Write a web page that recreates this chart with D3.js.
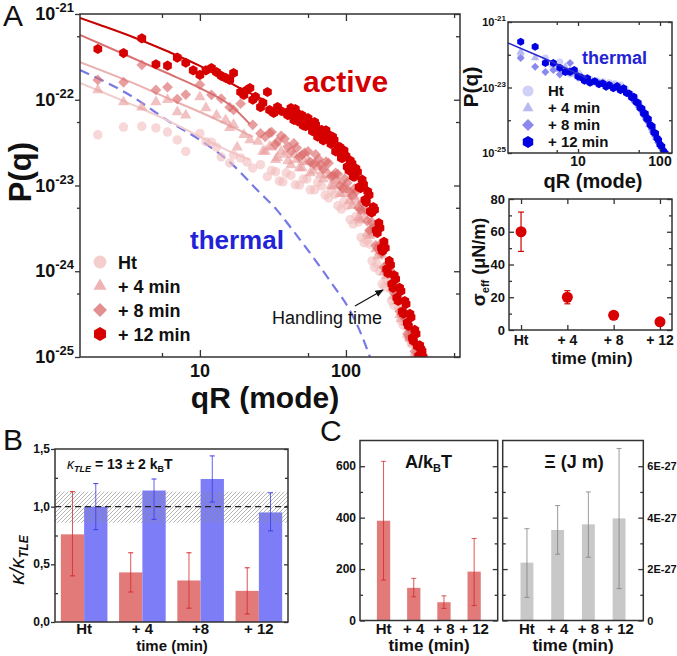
<!DOCTYPE html>
<html>
<head>
<meta charset="utf-8">
<script src="https://cdn.jsdelivr.net/npm/d3@7"></script>
<style>
  body { margin: 0; background: #fff; }
  svg { font-family: "Liberation Sans", Arial, sans-serif; }
</style>
</head>
<body>
<svg id="fig" width="677" height="656"></svg>
<script>
// ---------- data ----------
const times = ["Ht", "+ 4", "+ 8", "+ 12"];
const timesB = ["Ht", "+ 4", "+8", "+ 12"];
const legendLabels = ["Ht", "+ 4 min", "+ 8 min", "+ 12 min"];

// panel A, active spectra [qR, P(q)]
const activeHt = [[2,3.9e-23],[3,4.8e-23],[4,4.9e-23],[5,4.7e-23],[6,4.2e-23],[7,3.4e-23],[8,2.5e-23],[10,4.05e-23],[11,3.25e-23],[12,3.2e-23],[13,2.8e-23],[14,2.15e-23],[16,1.83e-23],[17,2.27e-23],[19,2.1e-23],[21,1.88e-23],[23,1.6e-23],[26,1.75e-23],
  [29,1.27e-23],[31,1.5e-23],[33,1.45e-23],[35,1.13e-23],[37,1.1e-23],[39,1.4e-23],[42,1.31e-23],[45,1.02e-23],[48,1.01e-23],[51,1.19e-23],[54,1.19e-23],[57,8.9e-24],[61,8.9e-24],[64,1.08e-23],[68,9.9e-24],[72,7.75e-24],[76,7.15e-24],[80,8.75e-24],[84,7.85e-24],[88,5.8e-24],[93,5.3e-24],[97,6.5e-24],[102,5.8e-24],[107,4.0e-24],[112,3.55e-24],[117,4.35e-24],[122,3.75e-24],[127,2.48e-24],[133,2.15e-24],[139,2.3e-24],[145,2.07e-24],[151,1.32e-24],[157,1.11e-24],[163,1.22e-24],[170,1.0e-24],[177,7.1e-25],[184,6.55e-25],[191,7.9e-25],[198,7.1e-25],[205,4.55e-25],[213,4.0e-25],[221,4.8e-25],[229,3.73e-25],[237,2.7e-25],[246,2.36e-25],[254,2.9e-25],[263,2.18e-25],[272,1.6e-25],[281,1.42e-25],[290,1.49e-25],[300,1.34e-25]];
const active4 = [[2,1.3e-22],[3,9.4e-23],[4,8.2e-23],[5,9.4e-23],[6,1.0e-22],[7,7.2e-23],[8,6.6e-23],[10,1.08e-22],[11,8.0e-23],[13,6.6e-23],[15,5.8e-23],[16,4.7e-23],[17,5.1e-23],[18,2.8e-23],[20,3.9e-23],[22,3.4e-23],
  [25,3.25e-23],[27,2.5e-23],[28,2.5e-23],[30,2.85e-23],[31,2.8e-23],[33,2.0e-23],[34,2.1e-23],[36,2.5e-23],[38,2.3e-23],[40,1.93e-23],[42,1.74e-23],[44,2.27e-23],[46,2.0e-23],[48,1.6e-23],[50,1.6e-23],[52,1.88e-23],[55,1.93e-23],[57,1.4e-23],[60,1.48e-23],[62,1.78e-23],[65,1.64e-23],[67,1.33e-23],[70,1.19e-23],[73,1.5e-23],[76,1.33e-23],[79,9.9e-24],[82,9.9e-24],[85,1.16e-23],[88,1.13e-23],[91,8.0e-24],[95,8.0e-24],[98,9.6e-24],[102,8.9e-24],[106,6.7e-24],[110,5.8e-24],[114,7.45e-24],[118,6.4e-24],[122,4.2e-24],[126,3.95e-24],[130,5.0e-24],[135,4.4e-24],[140,2.75e-24],[145,2.6e-24],[150,3.15e-24],[155,2.7e-24],[160,1.82e-24],[165,1.5e-24],[170,1.68e-24],[176,1.55e-24],[182,9.8e-25],[188,8.8e-25],[194,1.09e-24],[200,9.3e-25],[206,6.2e-25],[213,5.15e-25],[220,5.7e-25],[227,4.5e-25],[234,3.1e-25],[241,2.8e-25],[248,3.35e-25],[256,2.55e-25],[264,1.83e-25],[272,1.67e-25],[280,1.93e-25],[288,1.46e-25],[296,1.1e-25],[305,1.03e-25]];
const active8 = [[2,1.7e-22],[3,1.6e-22],[4,2.55e-22],[5,1.3e-22],[6,1.4e-22],[7,1.02e-22],[8,1.15e-22],[10,1.5e-22],[12,1.14e-22],[14,1.03e-22],[16,8.2e-23],[17,7.6e-23],[19,9.0e-23],[23,5.1e-23],[26,4.05e-23],
  [28,3.7e-23],[30,4.1e-23],[31,4.2e-23],[33,3.0e-23],[34,3.25e-23],[36,3.8e-23],[38,3.5e-23],[40,2.85e-23],[42,2.5e-23],[44,3.1e-23],[46,2.75e-23],[48,2.15e-23],[50,2.27e-23],[52,2.4e-23],[55,2.5e-23],[57,1.88e-23],[60,1.78e-23],[62,2.3e-23],[65,2.03e-23],[67,1.74e-23],[70,1.55e-23],[73,1.9e-23],[76,1.83e-23],[79,1.27e-23],[82,1.3e-23],[85,1.4e-23],[88,1.36e-23],[91,1.0e-23],[95,9.3e-24],[98,1.2e-23],[102,1.07e-23],[106,8.5e-24],[110,7.55e-24],[114,9.2e-24],[118,8.6e-24],[122,5.5e-24],[126,5.2e-24],[130,6.4e-24],[135,5.3e-24],[140,3.85e-24],[145,3.0e-24],[150,3.75e-24],[155,3.2e-24],[160,2.0e-24],[165,1.82e-24],[170,2.03e-24],[176,1.63e-24],[182,1.11e-24],[188,1.0e-24],[194,1.23e-24],[200,1.03e-24],[206,7.2e-25],[213,5.6e-25],[220,6.7e-25],[227,5.0e-25],[234,3.4e-25],[241,3.1e-25],[248,3.3e-25],[256,2.8e-25],[264,1.86e-25],[272,1.67e-25],[280,2.03e-25],[288,1.54e-25],[296,1.16e-25],[305,1.0e-25]];
const active12 = [[2,3.9e-22],[3,3.5e-22],[4,5.2e-22],[5,2.6e-22],[6,2.5e-22],[7,3.1e-22],[8,2.7e-22],[9,2.2e-22],[10,1.95e-22],[11,2.2e-22],[12,2.35e-22],[13,2.1e-22],[14,1.9e-22],[15,1.8e-22],[16,1.7e-22],[17,2.05e-22],[19,1.23e-22],[20,1.14e-22],[21,1.3e-22],[22,1.37e-22],[23,1.0e-22],[24,1.08e-22],[26,8.2e-23],[27,9.2e-23],[29,1.23e-22],[30,7.6e-23],[32,7.0e-23],[34,8.2e-23],[36,7.4e-23],[39,7.0e-23],
  [40,6.6e-23],[41,7.3e-23],[42,8.0e-23],[43,6.55e-23],[44,5.8e-23],[45,7.8e-23],[46,7.0e-23],[47,5.6e-23],[48,6.0e-23],[49,6.3e-23],[50,6.6e-23],[51,5.0e-23],[53,4.9e-23],[55,6.1e-23],[56,5.5e-23],[58,4.8e-23],[59,4.3e-23],[61,5.5e-23],[62,5.1e-23],[64,3.7e-23],[65,4.0e-23],[67,4.3e-23],[68,4.45e-23],[70,3.35e-23],[71,3.5e-23],[73,4.4e-23],[75,3.95e-23],[77,3.4e-23],[79,3.05e-23],[81,3.7e-23],[83,3.4e-23],[85,2.5e-23],[87,2.5e-23],[89,2.8e-23],[91,2.8e-23],[93,2.1e-23],[95,2.1e-23],[97,2.55e-23],[100,2.2e-23],[102,1.65e-23],[105,1.5e-23],[107,1.95e-23],[110,1.8e-23],[112,1.27e-23],[115,1.27e-23],[117,1.58e-23],[120,1.44e-23],[123,9.6e-24],[126,9.3e-24],[129,1.17e-23],[132,1.03e-23],[135,6.8e-24],[138,6.4e-24],[141,8.5e-24],[144,7.75e-24],[147,5.0e-24],[150,4.8e-24],[154,5.6e-24],[157,5.2e-24],[161,3.0e-24],[164,2.8e-24],[168,3.65e-24],[171,3.2e-24],[175,1.87e-24],[178,1.72e-24],[182,2.2e-24],[186,1.87e-24],[190,1.06e-24],[194,9.5e-25],[198,1.32e-24],[202,1.18e-24],[206,7.1e-25],[210,6.4e-25],[214,9.0e-25],[219,8.1e-25],[223,4.9e-25],[228,4.5e-25],[233,6.4e-25],[238,5.9e-25],[243,3.4e-25],[248,3.2e-25],[253,4.5e-25],[258,4.15e-25],[263,2.5e-25],[268,2.3e-25],[274,3.2e-25],[279,2.9e-25],[285,1.67e-25],[290,1.54e-25],[296,2.07e-25],[302,1.86e-25],[308,1.34e-25],[314,1.03e-25],[320,1.37e-25],[326,1.24e-25],[332,1.17e-25],[338,1.0e-25]];

// fits and thermal reference curve
const fitHt = [[1.51,1.57e-22],[3.47,8.7e-23],[5.94,5.8e-23],[10,3.7e-23],[16.8,2.4e-23],[22,2.0e-23]];
const fit4 = [[1.51,2.75e-22],[3.47,1.57e-22],[5.94,1.05e-22],[10,7.2e-23],[16.8,4.8e-23],[23.1,3.7e-23]];
const fit8 = [[1.51,5.7e-22],[3.47,3.07e-22],[5.94,2.05e-22],[10,1.37e-22],[16.8,8.2e-23],[22,5.2e-23]];
const fit12 = [[1.51,9.0e-22],[2.07,7.45e-22],[3.47,5.4e-22],[5.94,3.7e-22],[10,2.48e-22],[18.8,1.37e-22],[26.6,1.02e-22]];
const thermalCurve = [[1.51,2.22e-22],[3.47,1.08e-22],[5.94,5.8e-23],[10,3.4e-23],[16.8,1.74e-23],[24.6,8.9e-24],[33.6,5.2e-24],[43.3,3.0e-24],[59.4,1.47e-24],[81.5,6.9e-25],[106,3.54e-25],[128,1.8e-25],[146,1.0e-25]];

// inset: thermal spectra
const thermHt = [[2,1.0e-22],[4,8e-23],[5,4.5e-23],[6,6e-23],[8,2.6e-23],[10,2.8e-23],[12,2.0e-23],[14,1.8e-23],[17,1.6e-23],[20,1.5e-23],[24,1.4e-23],[28,1.3e-23],[33,1.2e-23],[38,9e-24],[44,6e-24],[50,4.5e-24],[56,3e-24],[62,2e-24],[68,1.4e-24],[75,8e-25],[82,5e-25],[90,3e-25],[98,2e-25]];
const therm4 = [[2,1.23e-22],[3,8.1e-23],[4,6e-23],[5,5e-23],[6,3.5e-23],[7,4.2e-23],[8,3.2e-23],[9,2.5e-23],[11,2.2e-23],[13,1.7e-23],[16,1.45e-23],[19,1.3e-23],[23,1.2e-23],[27,1.15e-23],[32,1.0e-23],[37,8e-24],[43,6e-24],[49,4e-24],[55,2.8e-24],[61,1.8e-24],[67,1.2e-24],[74,7.5e-25],[81,4.8e-25],[89,3e-25]];
const therm8 = [[2,7.9e-23],[3,4.3e-23],[4,2.95e-23],[5,3.4e-23],[6,2.5e-23],[7,3.0e-23],[8,5.6e-23],[10,2.0e-23],[12,1.7e-23],[15,1.5e-23],[18,1.35e-23],[22,1.2e-23],[26,1.0e-23],[31,9e-24],[36,8.5e-24],[41,6.5e-24],[47,4.3e-24],[53,3.0e-24],[59,2.0e-24],[65,1.3e-24],[72,8.5e-25],[79,5.3e-25],[87,3.3e-25],[95,2.1e-25],[104,1.4e-25]];
const therm12 = [[2,2.5e-22],[3,1.76e-22],[4,5.6e-23],[5,5.6e-23],[6,4.0e-23],[7,3.0e-23],[8,3.0e-23],[9,3.4e-23],[10,2.2e-23],[11,2.0e-23],[12,1.6e-23],[13,1.9e-23],[14,1.4e-23],[16,1.55e-23],[18,1.25e-23],[20,1.35e-23],[22,1.05e-23],[24,1.2e-23],[27,9.5e-24],[30,1.1e-23],[33,8.2e-24],[36,9.4e-24],[39,6.8e-24],[42,6.6e-24],[45,5.0e-24],[48,5.2e-24],[51,3.6e-24],[54,3.4e-24],[57,2.4e-24],[60,2.3e-24],[63,1.6e-24],[66,1.6e-24],[69,1.1e-24],[72,1.1e-24],[76,7.2e-25],[80,6.5e-25],[84,4.2e-25],[88,4.0e-25],[92,2.8e-25],[96,2.5e-25],[100,1.8e-25],[105,1.6e-25],[110,1.15e-25],[115,1.0e-25]];
const thermFit = [[1.4,2.3e-22],[4.3,6.9e-23],[12.9,1.95e-23]];

// effective tension (uN/m)
const sigmaEff = [60, 20, 9, 5];
const sigmaLo = [48, 16, 8, 4];
const sigmaHi = [72, 24, 10, 6];

// panel B, kappa / kappa_TLE
const kappaActive = [0.76, 0.43, 0.36, 0.27];
const kappaActiveLo = [0.40, 0.26, 0.12, 0.07];
const kappaActiveHi = [1.13, 0.60, 0.60, 0.47];
const kappaThermal = [1.0, 1.14, 1.24, 0.95];
const kappaThermalLo = [0.80, 0.89, 1.04, 0.79];
const kappaThermalHi = [1.20, 1.24, 1.44, 1.12];
const kappaBand = [0.86, 1.13];

// panel C
const amplitude = [388, 127, 71, 190];
const amplitudeLo = [157, 92, 47, 58];
const amplitudeHi = [619, 164, 96, 319];
const xi = [2.25e-27, 3.52e-27, 3.74e-27, 3.97e-27];
const xiLo = [0.90e-27, 2.58e-27, 2.46e-27, 1.24e-27];
const xiHi = [3.57e-27, 4.47e-27, 5.0e-27, 6.69e-27];

// tick values
const pTicks = [1e-21, 1e-22, 1e-23, 1e-24, 1e-25];
const pMinor = [5.5e-22, 5.5e-23, 5.5e-24, 5.5e-25];
const qTicks = [10, 100];
const qMinor = [5.5, 55, 550];
const insetPTicks = [1e-21, 1e-23, 1e-25];
const insetPMinor = [1e-22, 1e-24];
const sigmaTicks = [0, 20, 40, 60, 80];
const kappaTicks = [0, 0.5, 1, 1.5];
const ampTicks = [0, 200, 400, 600];
const xiTicks = [0, 2e-27, 4e-27, 6e-27];

// ---------- helpers ----------
const svg = d3.select("#fig");
const frameColor = "#333";

const symbolHexagon = {
  draw(context, size) {
    const r = Math.sqrt((2 * size) / (3 * Math.sqrt(3)));
    for (let i = 0; i < 6; i++) {
      const a = (Math.PI / 3) * i - Math.PI / 2;
      if (i === 0) context.moveTo(r * Math.cos(a), r * Math.sin(a));
      else context.lineTo(r * Math.cos(a), r * Math.sin(a));
    }
    context.closePath();
  },
};
const symbolRhomb = {
  draw(context, size) {
    const r = Math.sqrt(size / 2);
    context.moveTo(0, -r);
    context.lineTo(r, 0);
    context.lineTo(0, r);
    context.lineTo(-r, 0);
    context.closePath();
  },
};
const shapes = [d3.symbolCircle, d3.symbolTriangle, symbolRhomb, symbolHexagon];

function box(g, x0, x1, y0, y1) {
  g.append("rect")
    .attr("x", x0).attr("y", y0)
    .attr("width", x1 - x0).attr("height", y1 - y0)
    .attr("fill", "none")
    .attr("stroke", frameColor)
    .attr("stroke-width", 1.5);
}

function ticks(g, axisFn, scale, values, size, transform) {
  g.append("g")
    .attr("transform", transform)
    .call(axisFn(scale).tickValues(values).tickSize(size).tickFormat(""))
    .call((a) => a.select(".domain").remove())
    .selectAll("line")
    .attr("stroke", frameColor)
    .attr("stroke-width", 1.3);
}

function points(g, data, x, y, shape, size, fill, opacity) {
  g.append("g")
    .selectAll("path")
    .data(data)
    .join("path")
    .attr("transform", (d) => `translate(${x(d[0])},${y(d[1])})`)
    .attr("d", d3.symbol(shape, size))
    .attr("fill", fill)
    .attr("fill-opacity", opacity);
}

function label(g, x, y, txt, size, opts = {}) {
  return g.append("text")
    .attr("x", x).attr("y", y)
    .attr("font-size", size)
    .attr("font-weight", opts.weight || "bold")
    .attr("text-anchor", opts.anchor || "start")
    .attr("fill", opts.fill || "#111")
    .text(txt);
}

// ---------- panel A, main ----------
const A = { left: 80, right: 460, top: 14, bottom: 357 };
const xA = d3.scaleLog().domain([1.51, 604]).range([A.left, A.right]);
const yA = d3.scaleLog().domain([1e-25, 1e-21]).range([A.bottom, A.top]);

const mainG = svg.append("g");
svg.append("defs").append("clipPath").attr("id", "clipA")
  .append("rect").attr("x", A.left).attr("y", A.top)
  .attr("width", A.right - A.left).attr("height", A.bottom - A.top);

const plotA = mainG.append("g").attr("clip-path", "url(#clipA)");
const lineA = d3.line().x((d) => xA(d[0])).y((d) => yA(d[1])).curve(d3.curveMonotoneX);

plotA.append("path").attr("d", lineA(thermalCurve))
  .attr("fill", "none").attr("stroke", "#7878e6").attr("stroke-width", 2.2)
  .attr("stroke-dasharray", "10,6");

const activeSeries = [
  { data: activeHt, fit: fitHt, fill: "#f2bcbc", op: 0.6, line: "#f2cccc", size: 70 },
  { data: active4, fit: fit4, fill: "#e99a9a", op: 0.6, line: "#ebb0b0", size: 55 },
  { data: active8, fit: fit8, fill: "#db6a6a", op: 0.65, line: "#d87272", size: 58 },
  { data: active12, fit: fit12, fill: "#d60000", op: 1, line: "#c80000", size: 66 },
];
activeSeries.forEach((s, i) => {
  plotA.append("path").attr("d", lineA(s.fit))
    .attr("fill", "none").attr("stroke", s.line).attr("stroke-width", 2);
  points(plotA, s.data, xA, yA, shapes[i], s.size, s.fill, s.op);
});

box(mainG, A.left, A.right, A.top, A.bottom);
ticks(mainG, d3.axisLeft, yA, pTicks, 5, `translate(${A.left},0)`);
ticks(mainG, d3.axisLeft, yA, pMinor, 3, `translate(${A.left},0)`);
ticks(mainG, d3.axisRight, yA, pTicks, -6, `translate(${A.right},0)`);
ticks(mainG, d3.axisRight, yA, pMinor, -4, `translate(${A.right},0)`);
ticks(mainG, d3.axisBottom, xA, qTicks, -7, `translate(0,${A.bottom})`);
ticks(mainG, d3.axisBottom, xA, qMinor, -4, `translate(0,${A.bottom})`);
ticks(mainG, d3.axisTop, xA, qTicks, -7, `translate(0,${A.top})`);
ticks(mainG, d3.axisTop, xA, qMinor, -4, `translate(0,${A.top})`);

mainG.append("g").selectAll("text").data(pTicks).join("text")
  .attr("x", A.left - 6).attr("y", (d) => yA(d) + 6)
  .attr("text-anchor", "end").attr("font-weight", "bold").attr("font-size", 18).attr("fill", "#111")
  .text("10")
  .append("tspan").attr("dy", -8).attr("font-size", 13)
  .text((d) => Math.round(Math.log10(d)));

mainG.append("g").selectAll("text").data(qTicks).join("text")
  .attr("x", (d) => xA(d)).attr("y", 377)
  .attr("text-anchor", "middle").attr("font-weight", "bold").attr("font-size", 18).attr("fill", "#111")
  .text((d) => d);

label(mainG, 265, 408, "qR (mode)", 30, { anchor: "middle" });
label(mainG, 0, 0, "P(q)", 31, { anchor: "middle" })
  .attr("transform", "translate(31,172) rotate(-90)");
label(mainG, 3, 26, "A", 30, { weight: "normal" });
label(mainG, 303, 92, "active", 30, { fill: "#d40000" });
label(mainG, 190, 249, "thermal", 26, { fill: "#2222d6" });

// legend
const legendA = mainG.append("g");
const legendSizes = [130, 75, 98, 125];
legendLabels.forEach((t, i) => {
  const y = 262 + i * 24;
  legendA.append("path")
    .attr("transform", `translate(100,${y})`)
    .attr("d", d3.symbol(shapes[i], legendSizes[i]))
    .attr("fill", activeSeries[i].fill)
    .attr("fill-opacity", i === 3 ? 1 : 0.75);
  label(legendA, 118, y + 6.5, t, 18);
});

// handling time arrow
svg.select("defs").append("marker")
  .attr("id", "arrow").attr("viewBox", "0 0 10 10")
  .attr("refX", 9).attr("refY", 5)
  .attr("markerWidth", 7).attr("markerHeight", 7)
  .attr("orient", "auto")
  .append("path").attr("d", "M0,1 L10,5 L0,9 Z").attr("fill", "#111");
mainG.append("line")
  .attr("x1", 355).attr("y1", 306).attr("x2", 383).attr("y2", 290)
  .attr("stroke", "#111").attr("stroke-width", 1.2)
  .attr("marker-end", "url(#arrow)");
label(mainG, 272, 324, "Handling time", 18, { weight: "normal" });

// ---------- inset: thermal spectra ----------
const I = { left: 508, right: 672, top: 22, bottom: 153 };
const xI = d3.scaleLog().domain([1.4, 140]).range([I.left, I.right]);
const yI = d3.scaleLog().domain([1e-25, 1e-21]).range([I.bottom, I.top]);
const insetG = svg.append("g");
svg.select("defs").append("clipPath").attr("id", "clipI")
  .append("rect").attr("x", I.left).attr("y", I.top)
  .attr("width", I.right - I.left).attr("height", I.bottom - I.top);
const plotI = insetG.append("g").attr("clip-path", "url(#clipI)");

const thermalSeries = [
  { data: thermHt, fill: "#cfd2f6", size: 38 },
  { data: therm4, fill: "#b6b9f2", size: 30 },
  { data: therm8, fill: "#8a8aee", size: 32 },
  { data: therm12, fill: "#0000e0", size: 42 },
];
thermalSeries.forEach((s, i) => points(plotI, s.data, xI, yI, shapes[i], s.size, s.fill, 1));
const lineI = d3.line().x((d) => xI(d[0])).y((d) => yI(d[1]));
plotI.append("path").attr("d", lineI(thermFit))
  .attr("fill", "none").attr("stroke", "#2a2ad0").attr("stroke-width", 1.5);

box(insetG, I.left, I.right, I.top, I.bottom);
ticks(insetG, d3.axisLeft, yI, insetPTicks, -4, `translate(${I.left},0)`);
ticks(insetG, d3.axisLeft, yI, insetPMinor, -3, `translate(${I.left},0)`);
ticks(insetG, d3.axisRight, yI, insetPTicks, -4, `translate(${I.right},0)`);
ticks(insetG, d3.axisRight, yI, insetPMinor, -3, `translate(${I.right},0)`);
ticks(insetG, d3.axisBottom, xI, qTicks, -4, `translate(0,${I.bottom})`);
ticks(insetG, d3.axisBottom, xI, [5.5, 55], -3, `translate(0,${I.bottom})`);
ticks(insetG, d3.axisTop, xI, qTicks, -4, `translate(0,${I.top})`);
ticks(insetG, d3.axisTop, xI, [5.5, 55], -3, `translate(0,${I.top})`);

insetG.append("g").selectAll("text").data(insetPTicks).join("text")
  .attr("x", I.left - 2).attr("y", (d) => yI(d) + 4)
  .attr("text-anchor", "end").attr("font-weight", "bold").attr("font-size", 11).attr("fill", "#111")
  .text("10")
  .append("tspan").attr("dy", -5).attr("font-size", 8)
  .text((d) => Math.round(Math.log10(d)));
insetG.append("g").selectAll("text").data(qTicks).join("text")
  .attr("x", (d) => xI(d)).attr("y", 166)
  .attr("text-anchor", "middle").attr("font-weight", "bold").attr("font-size", 14).attr("fill", "#111")
  .text((d) => d);
label(insetG, 593, 188, "qR (mode)", 20, { anchor: "middle" });
label(insetG, 0, 0, "P(q)", 21, { anchor: "middle" })
  .attr("transform", "translate(478,87) rotate(-90)");
label(insetG, 582, 64, "thermal", 18, { fill: "#2323d5" });

const legendISizes = [95, 52, 72, 94];
legendLabels.forEach((t, i) => {
  const y = 91 + i * 17;
  insetG.append("path")
    .attr("transform", `translate(528,${y})`)
    .attr("d", d3.symbol(shapes[i], legendISizes[i]))
    .attr("fill", thermalSeries[i].fill);
  label(insetG, 548, y + 5, t, 15);
});

// ---------- sigma_eff ----------
const S = { left: 509, right: 672, top: 199, bottom: 330 };
const xS = d3.scalePoint().domain(times).range([S.left, S.right]).padding(0.26);
const yS = d3.scaleLinear().domain([0, 80]).range([S.bottom, S.top]);
const sigG = svg.append("g");
box(sigG, S.left, S.right, S.top, S.bottom);
ticks(sigG, d3.axisLeft, yS, sigmaTicks, -5, `translate(${S.left},0)`);
ticks(sigG, d3.axisLeft, yS, [10, 30, 50, 70], -3, `translate(${S.left},0)`);
ticks(sigG, d3.axisRight, yS, sigmaTicks, -5, `translate(${S.right},0)`);
ticks(sigG, d3.axisRight, yS, [10, 30, 50, 70], -3, `translate(${S.right},0)`);
ticks(sigG, d3.axisBottom, xS, times, -5, `translate(0,${S.bottom})`);
ticks(sigG, d3.axisTop, xS, times, -5, `translate(0,${S.top})`);

sigmaEff.forEach((v, i) => {
  const x = xS(times[i]);
  sigG.append("line").attr("x1", x).attr("x2", x)
    .attr("y1", yS(sigmaLo[i])).attr("y2", yS(sigmaHi[i]))
    .attr("stroke", "#d00000").attr("stroke-width", 1.2);
  [sigmaLo[i], sigmaHi[i]].forEach((e) =>
    sigG.append("line").attr("x1", x - 3).attr("x2", x + 3)
      .attr("y1", yS(e)).attr("y2", yS(e))
      .attr("stroke", "#d00000").attr("stroke-width", 1.2));
  sigG.append("circle").attr("cx", x).attr("cy", yS(v)).attr("r", 5.5).attr("fill", "#d80000");
});
sigG.append("g").selectAll("text").data(sigmaTicks).join("text")
  .attr("x", S.left - 4).attr("y", (d) => yS(d) + 4.5)
  .attr("text-anchor", "end").attr("font-weight", "bold").attr("font-size", 13).attr("fill", "#111")
  .text((d) => d);
sigG.append("g").selectAll("text").data(times).join("text")
  .attr("x", (d) => xS(d)).attr("y", 345)
  .attr("text-anchor", "middle").attr("font-weight", "bold").attr("font-size", 14).attr("fill", "#111")
  .text((d) => d);
label(sigG, 592, 364, "time (min)", 17, { anchor: "middle" });
const sigLab = label(sigG, 0, 0, "σ", 19, { anchor: "middle" })
  .attr("transform", "translate(485,262) rotate(-90)");
sigLab.append("tspan").attr("font-size", 11).attr("dy", 4).text("eff");
sigLab.append("tspan").attr("font-size", 18).attr("dy", -4).text(" (μN/m)");

// ---------- panel B ----------
const B = { left: 55, right: 288, top: 449, bottom: 622 };
const xB = d3.scaleBand().domain(timesB).range([B.left, B.right]).paddingInner(0.2).paddingOuter(0.1);
const xBsub = d3.scaleBand().domain(["active", "thermal"]).range([0, xB.bandwidth()]);
const yB = d3.scaleLinear().domain([0, 1.5]).range([B.bottom, B.top]);
const bG = svg.append("g");

const bSeries = [
  { key: "active", vals: kappaActive, lo: kappaActiveLo, hi: kappaActiveHi, fill: "#e27a7a", err: "#d42a2a" },
  { key: "thermal", vals: kappaThermal, lo: kappaThermalLo, hi: kappaThermalHi, fill: "#7d7df7", err: "#3c3ce6" },
];
bSeries.forEach((s) => {
  bG.append("g").selectAll("rect").data(s.vals).join("rect")
    .attr("x", (d, i) => xB(timesB[i]) + xBsub(s.key))
    .attr("width", xBsub.bandwidth())
    .attr("y", (d) => yB(d))
    .attr("height", (d) => yB(0) - yB(d))
    .attr("fill", s.fill);
});

// hatched TLE band and reference line
const pat = svg.select("defs").append("pattern")
  .attr("id", "hatch").attr("patternUnits", "userSpaceOnUse")
  .attr("width", 4).attr("height", 4);
pat.append("path").attr("d", "M-1,1 l2,-2 M0,4 l4,-4 M3,5 l2,-2")
  .attr("stroke", "#8a8a8a").attr("stroke-width", 0.8);
bG.append("rect")
  .attr("x", B.left).attr("width", B.right - B.left)
  .attr("y", yB(kappaBand[1])).attr("height", yB(kappaBand[0]) - yB(kappaBand[1]))
  .attr("fill", "url(#hatch)").attr("opacity", 0.8);
bG.append("line")
  .attr("x1", B.left).attr("x2", B.right).attr("y1", yB(1)).attr("y2", yB(1))
  .attr("stroke", "#222").attr("stroke-width", 1.3).attr("stroke-dasharray", "6,4");

bSeries.forEach((s) => {
  s.vals.forEach((v, i) => {
    const x = xB(timesB[i]) + xBsub(s.key) + xBsub.bandwidth() / 2;
    bG.append("line").attr("x1", x).attr("x2", x)
      .attr("y1", yB(s.lo[i])).attr("y2", yB(s.hi[i]))
      .attr("stroke", s.err).attr("stroke-width", 1).attr("stroke-opacity", 0.8);
    [s.lo[i], s.hi[i]].forEach((e) =>
      bG.append("line").attr("x1", x - 2.5).attr("x2", x + 2.5)
        .attr("y1", yB(e)).attr("y2", yB(e))
        .attr("stroke", s.err).attr("stroke-width", 1));
  });
});

box(bG, B.left, B.right, B.top, B.bottom);
ticks(bG, d3.axisLeft, yB, kappaTicks, 4, `translate(${B.left},0)`);
ticks(bG, d3.axisLeft, yB, [0.25, 0.75, 1.25], -3, `translate(${B.left},0)`);
ticks(bG, d3.axisRight, yB, kappaTicks, -4, `translate(${B.right},0)`);
ticks(bG, d3.axisRight, yB, [0.25, 0.75, 1.25], -3, `translate(${B.right},0)`);

bG.append("g").selectAll("text").data(kappaTicks).join("text")
  .attr("x", B.left - 5).attr("y", (d) => yB(d) + 4)
  .attr("text-anchor", "end").attr("font-weight", "bold").attr("font-size", 12).attr("fill", "#111")
  .text((d) => d.toFixed(1).replace(".", ","));
bG.append("g").selectAll("text").data(timesB).join("text")
  .attr("x", (d) => xB(d) + xB.bandwidth() / 2).attr("y", 634)
  .attr("text-anchor", "middle").attr("font-weight", "bold").attr("font-size", 15).attr("fill", "#111")
  .text((d) => d);
label(bG, 172, 651, "time (min)", 15, { anchor: "middle" });
label(bG, 3, 450, "B", 30, { weight: "normal" });

const kTxt = label(bG, 67, 469, "κ", 14, { weight: "normal" }).attr("font-style", "italic");
kTxt.append("tspan").attr("font-size", 9).attr("font-weight", "bold").attr("dy", 3).text("TLE");
kTxt.append("tspan").attr("dy", -3).attr("font-style", "normal").attr("font-weight", "bold").text(" = 13 ± 2  k");
kTxt.append("tspan").attr("dy", 3).attr("font-size", 9).attr("font-style", "normal").attr("font-weight", "bold").text("B");
kTxt.append("tspan").attr("dy", -3).attr("font-style", "normal").attr("font-weight", "bold").text("T");

const kLab = label(bG, 0, 0, "κ/κ", 21, { anchor: "middle", weight: "normal" })
  .attr("font-style", "italic")
  .attr("transform", "translate(24,560) rotate(-90)");
kLab.append("tspan").attr("font-size", 12).attr("font-weight", "bold").attr("dy", 4).text("TLE");

// ---------- panel C ----------
const C = { top: 440.5, bottom: 620.5 };
const C1 = { left: 360, right: 497.7 };
const C2 = { left: 502.7, right: 643.3 };
const xC1 = d3.scaleBand().domain(times).range([C1.left, C1.right]).padding(0.56);
const xC2 = d3.scaleBand().domain(times).range([C2.left, C2.right]).padding(0.58);
const yC1 = d3.scaleLinear().domain([0, 700]).range([C.bottom, C.top]);
const yC2 = d3.scaleLinear().domain([0, 7e-27]).range([C.bottom, C.top]);
const cG = svg.append("g");

function barsWithErrors(g, x, y, vals, lo, hi, fill, err) {
  g.append("g").selectAll("rect").data(vals).join("rect")
    .attr("x", (d, i) => x(times[i]))
    .attr("width", x.bandwidth())
    .attr("y", (d) => y(d))
    .attr("height", (d) => y(0) - y(d))
    .attr("fill", fill);
  vals.forEach((v, i) => {
    const cx = x(times[i]) + x.bandwidth() / 2;
    g.append("line").attr("x1", cx).attr("x2", cx)
      .attr("y1", y(lo[i])).attr("y2", y(hi[i]))
      .attr("stroke", err).attr("stroke-width", 1).attr("stroke-opacity", 0.75);
    [lo[i], hi[i]].forEach((e) =>
      g.append("line").attr("x1", cx - 2.5).attr("x2", cx + 2.5)
        .attr("y1", y(e)).attr("y2", y(e))
        .attr("stroke", err).attr("stroke-width", 1).attr("stroke-opacity", 0.75));
  });
}
barsWithErrors(cG, xC1, yC1, amplitude, amplitudeLo, amplitudeHi, "#e27a7a", "#d42020");
barsWithErrors(cG, xC2, yC2, xi, xiLo, xiHi, "#c8c8c8", "#7a7a7a");

box(cG, C1.left, C1.right, C.top, C.bottom);
box(cG, C2.left, C2.right, C.top, C.bottom);
const ampMinor = [100, 300, 500];
ticks(cG, d3.axisLeft, yC1, ampTicks, -5, `translate(${C1.left},0)`);
ticks(cG, d3.axisLeft, yC1, ampMinor, -3, `translate(${C1.left},0)`);
ticks(cG, d3.axisRight, yC1, ampTicks, -5, `translate(${C1.right},0)`);
ticks(cG, d3.axisRight, yC1, ampMinor, -3, `translate(${C1.right},0)`);
ticks(cG, d3.axisLeft, yC1, ampTicks, -5, `translate(${C2.left},0)`);
ticks(cG, d3.axisLeft, yC1, ampMinor, -3, `translate(${C2.left},0)`);
ticks(cG, d3.axisRight, yC2, xiTicks, -5, `translate(${C2.right},0)`);
ticks(cG, d3.axisRight, yC2, [1e-27, 3e-27, 5e-27], -3, `translate(${C2.right},0)`);

cG.append("g").selectAll("text").data(ampTicks).join("text")
  .attr("x", C1.left - 4).attr("y", (d) => yC1(d) + 4)
  .attr("text-anchor", "end").attr("font-weight", "bold").attr("font-size", 12).attr("fill", "#111")
  .text((d) => d);
cG.append("g").selectAll("text").data(xiTicks).join("text")
  .attr("x", C2.right + 4).attr("y", (d) => yC2(d) + 4)
  .attr("font-weight", "bold").attr("font-size", 11).attr("fill", "#111")
  .text((d) => (d === 0 ? "0" : `${Math.round(d / 1e-27)}E-27`));

[xC1, xC2].forEach((x, k) => {
  cG.append("g").selectAll("text").data(times).join("text")
    .attr("x", (d) => x(d) + x.bandwidth() / 2).attr("y", 634)
    .attr("text-anchor", "middle").attr("font-weight", "bold").attr("font-size", 15).attr("fill", "#111")
    .text((d) => d);
  label(cG, k === 0 ? 429 : 573, 651, "time (min)", 17, { anchor: "middle" });
});

const aTxt = label(cG, 405, 468, "A/k", 18);
aTxt.append("tspan").attr("font-size", 11).attr("dy", 4).text("B");
aTxt.append("tspan").attr("dy", -4).text("T");
label(cG, 574, 468, "Ξ (J m)", 18, { anchor: "middle" });
label(cG, 320, 441, "C", 30, { weight: "normal" });
</script>
</body>
</html>
